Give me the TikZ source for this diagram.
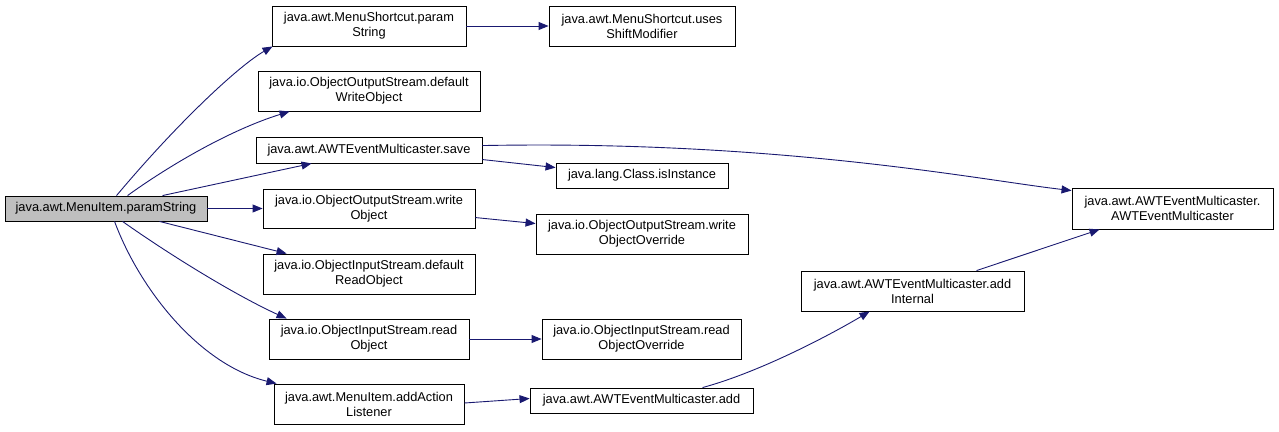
\documentclass[tikz,border=0pt]{standalone}
\usepackage{fontspec}
\setmainfont{Liberation Sans}
\usetikzlibrary{arrows.meta}
\begin{document}
\begin{tikzpicture}[x=1pt,y=-1pt,
  box/.style={draw=black,line width=0.9pt,fill=white,inner sep=0pt,align=center,
    font=\fontsize{12.8}{15}\selectfont},
  rootbox/.style={box,fill=black!25},
  edge/.style={draw={rgb,255:red,25;green,25;blue,112},line width=0.9pt,
    -{Triangle[length=10pt,width=8pt]}}]
\useasboundingbox (0,0) rectangle (1279,431);
\node[rootbox,minimum width=202pt,minimum height=25pt] (root) at (106,208.5) {java.awt.MenuItem.paramString};
\node[box,minimum width=194pt,minimum height=40pt] (msp) at (369,26) {java.awt.MenuShortcut.param\\String};
\node[box,minimum width=222pt,minimum height=40pt] (dwo) at (369,91) {java.io.ObjectOutputStream.default\\WriteObject};
\node[box,minimum width=226pt,minimum height=26pt] (save) at (369,150) {java.awt.AWTEventMulticaster.save};
\node[box,minimum width=212pt,minimum height=39pt] (wo) at (369,208.5) {java.io.ObjectOutputStream.write\\Object};
\node[box,minimum width=212pt,minimum height=40pt] (dro) at (369,274) {java.io.ObjectInputStream.default\\ReadObject};
\node[box,minimum width=200pt,minimum height=40pt] (ro) at (369,339) {java.io.ObjectInputStream.read\\Object};
\node[box,minimum width=190pt,minimum height=40pt] (aal) at (369,404) {java.awt.MenuItem.addAction\\Listener};
\node[box,minimum width=186pt,minimum height=40pt] (usm) at (642,26) {java.awt.MenuShortcut.uses\\ShiftModifier};
\node[box,minimum width=172pt,minimum height=25pt] (isi) at (642,175.5) {java.lang.Class.isInstance};
\node[box,minimum width=212pt,minimum height=40pt] (woo) at (642,234) {java.io.ObjectOutputStream.write\\ObjectOverride};
\node[box,minimum width=199pt,minimum height=40pt] (roo) at (641.5,339) {java.io.ObjectInputStream.read\\ObjectOverride};
\node[box,minimum width=223pt,minimum height=25pt] (add) at (641.5,400.5) {java.awt.AWTEventMulticaster.add};
\node[box,minimum width=223pt,minimum height=40pt] (addi) at (912.5,291) {java.awt.AWTEventMulticaster.add\\Internal};
\node[box,minimum width=201pt,minimum height=41pt] (ctor) at (1172.5,208.5) {java.awt.AWTEventMulticaster.\\AWTEventMulticaster};
% edges from root
\draw[edge] ([xshift=112pt]root.north west) .. controls (180,120) and (240,65) .. ([xshift=1pt]msp.south west);
\draw[edge] ([xshift=123pt]root.north west) .. controls (170,165) and (230,130) .. ([xshift=32pt]dwo.south west);
\draw[edge] ([xshift=158pt]root.north west) -- ([xshift=56pt]save.south west);
\draw[edge] (root.east) -- (wo.west);
\draw[edge] ([xshift=155pt]root.south west) -- ([xshift=24pt]dro.north west);
\draw[edge] ([xshift=118pt]root.south west) .. controls (170,255) and (235,295) .. ([xshift=18pt]ro.north west);
\draw[edge] ([xshift=110pt]root.south west) .. controls (140,290) and (200,365) .. ([xshift=3pt]aal.north west);
% other edges
\draw[edge] (msp.east) -- (usm.west);
\draw[edge] ([yshift=-23pt]save.north east) -- ([yshift=-5pt]isi.north west);
\draw[edge] ([yshift=-9pt]save.north east) .. controls (780,140) and (980,180) .. ([yshift=-3pt]ctor.north west);
\draw[edge] ([yshift=-29pt]wo.north east) -- ([yshift=-10pt]woo.north west);
\draw[edge] (ro.east) -- (roo.west);
\draw[edge] ([yshift=1pt]aal.east) -- ([yshift=2pt]add.west);
\draw[edge] ([xshift=173pt]add.north west) .. controls (760,372) and (830,335) .. ([xshift=69pt]addi.south west);
\draw[edge] ([xshift=176pt]addi.north west) -- ([xshift=28pt]ctor.south west);
\end{tikzpicture}
\end{document}
